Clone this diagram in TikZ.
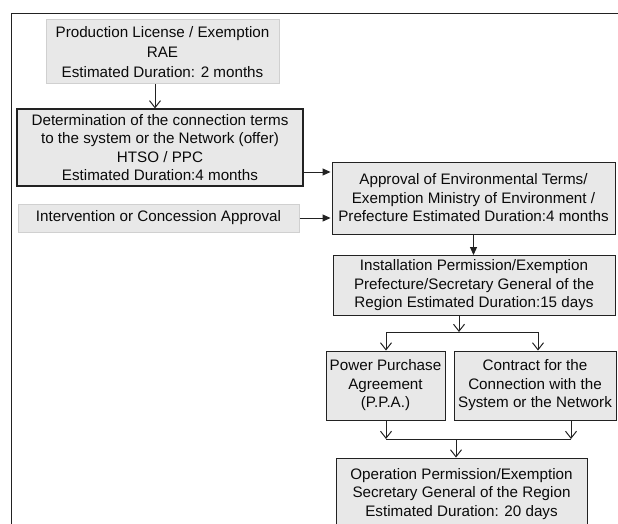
\documentclass[tikz,border=0pt]{standalone}
\usepackage{fontspec}
\setmainfont{Liberation Sans}
\usetikzlibrary{arrows.meta,calc}
\definecolor{boxfill}{HTML}{E8E8E8}
\definecolor{boxline}{HTML}{D0D0D0}
\definecolor{linedark}{HTML}{222222}
\definecolor{textc}{HTML}{0A0A0A}
\begin{document}
\begin{tikzpicture}[x=1pt,y=-1pt,
  box/.style={draw=linedark,line width=0.9pt,fill=boxfill,inner sep=0pt,align=center,
    font=\fontsize{15.2}{18.5}\selectfont,text=textc},
  lightbox/.style={box,draw=boxline,line width=1pt},
  con/.style={draw=linedark,line width=1pt},
  openarr/.style={con,-{Straight Barb[length=7pt,width=11pt]}},
  fillarr/.style={con,-{Triangle[length=8pt,width=7pt]}},
  frame/.style={draw=linedark,line width=1pt}
]
\useasboundingbox (0,0) rectangle (618,524);
\clip (0,0) rectangle (618,524);

\draw[frame] (11,530) -- (11,14) -- (620,14);

\node[lightbox,minimum width=233,minimum height=64,font=\fontsize{15.2}{20}\selectfont] (b1) at (162.5,52)
  {Production License / Exemption\\RAE\\Estimated Duration: 2 months};
\node[box,line width=1.1pt,minimum width=286,minimum height=77] (b2) at (160,147.5)
  {Determination of the connection terms\\to the system or the Network (offer)\\HTSO / PPC\\Estimated Duration:4 months};
\node[lightbox,minimum width=281,minimum height=28] (b3) at (158.5,218)
  {Intervention or Concession Approval};
\node[box,minimum width=283,minimum height=72] (b4) at (473.5,198)
  {Approval of Environmental Terms/\\Exemption Ministry of Environment /\\Prefecture Estimated Duration:4 months};
\node[box,minimum width=282,minimum height=60] (b5) at (474,285.5)
  {Installation Permission/Exemption\\Prefecture/Secretary General of the\\Region Estimated Duration:15 days};
\node[box,minimum width=119,minimum height=69] (b6) at (385.5,385.5)
  {Power Purchase\\Agreement\\(P.P.A.)};
\node[box,minimum width=162,minimum height=69] (b7) at (535,385.5)
  {Contract for the\\Connection with the\\System or the Network};
\node[box,minimum width=251,minimum height=72] (b8) at (461.5,494)
  {Operation Permission/Exemption\\Secretary General of the Region\\Estimated Duration: 20 days};

% connectors
\coordinate (t1) at ($(b1.south)+(-7.5,0)$);
\draw[openarr] (t1) -- (t1 |- b2.north);

\coordinate (a1) at ($(b4.west)+(-1,-26)$);
\draw[fillarr] (a1 -| b2.east) -- (a1);
\draw[fillarr] (b3.east) -- ($(b3.east -| b4.west)+(-1,0)$);

\draw[fillarr] (b4.south) -- (b4.south |- b5.north);

\coordinate (sL) at (386,332);
\coordinate (sR) at (538,332);
\coordinate (sM) at (459,332);
\draw[openarr] (sM |- b5.south) -- (sM);
\draw[con] (sL) -- (sR);
\draw[openarr] (sL) -- (sL |- b6.north);
\draw[openarr] (sR) -- (sR |- b7.north);

\coordinate (mL) at (386,439);
\coordinate (mR) at (571,439);
\coordinate (mM) at (456,439);
\draw[openarr] (mL |- b6.south) -- (mL);
\draw[openarr] (mR |- b7.south) -- (mR);
\draw[con] (mL) -- (mR);
\draw[openarr] (mM) -- (mM |- b8.north);
\end{tikzpicture}
\end{document}
